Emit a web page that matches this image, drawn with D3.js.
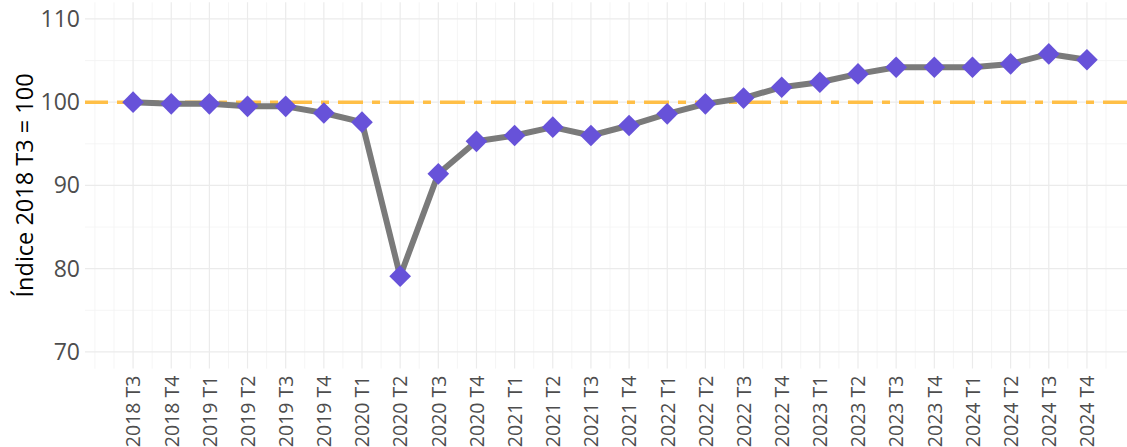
<!DOCTYPE html>
<html>
<head>
<meta charset="utf-8">
<script src="https://cdn.jsdelivr.net/npm/d3@7"></script>
<style>
body { margin: 0; background: #fff; }
text { font-family: "Open Sans", "Noto Sans", sans-serif; }
</style>
</head>
<body>
<div id="chart"></div>
<script>
var quarters = ["2018 T3","2018 T4","2019 T1","2019 T2","2019 T3","2019 T4",
  "2020 T1","2020 T2","2020 T3","2020 T4","2021 T1","2021 T2","2021 T3","2021 T4",
  "2022 T1","2022 T2","2022 T3","2022 T4","2023 T1","2023 T2","2023 T3","2023 T4",
  "2024 T1","2024 T2","2024 T3","2024 T4"];
var indexValues = [100.0, 99.8, 99.8, 99.5, 99.5, 98.7, 97.6, 79.1, 91.4, 95.3, 96.0, 97.0,
  96.0, 97.2, 98.6, 99.8, 100.5, 101.8, 102.4, 103.4, 104.2, 104.2, 104.2, 104.6, 105.8, 105.1];
var yTicks = [70, 80, 90, 100, 110];
var baseline = 100;

var width = 1127, height = 447;
var svg = d3.select("#chart").append("svg")
    .attr("width", width)
    .attr("height", height);

var x = d3.scaleLinear()
    .domain([-1.26, 26.05])
    .range([85, 1127]);
var y = d3.scaleLinear()
    .domain([68, 112])
    .range([368.6, 2.3]);

var panelTop = y(112), panelBottom = y(68);

// minor grid
var minorX = d3.range(-1, 26.5, 0.5).filter(function(d){ return d % 1 !== 0; });
minorX = minorX.concat([-1]);
svg.append("g").selectAll("line")
    .data(minorX).enter().append("line")
    .attr("x1", function(d){ return x(d); }).attr("x2", function(d){ return x(d); })
    .attr("y1", panelTop).attr("y2", panelBottom)
    .attr("stroke", "#f2f2f2").attr("stroke-width", 0.8);
svg.append("g").selectAll("line")
    .data([75, 85, 95, 105]).enter().append("line")
    .attr("x1", 85).attr("x2", width)
    .attr("y1", function(d){ return y(d); }).attr("y2", function(d){ return y(d); })
    .attr("stroke", "#f2f2f2").attr("stroke-width", 0.8);

// major grid
svg.append("g").selectAll("line")
    .data(d3.range(quarters.length)).enter().append("line")
    .attr("x1", function(d){ return x(d); }).attr("x2", function(d){ return x(d); })
    .attr("y1", panelTop).attr("y2", panelBottom)
    .attr("stroke", "#ebebeb").attr("stroke-width", 1.2);
svg.append("g").selectAll("line")
    .data(yTicks).enter().append("line")
    .attr("x1", 85).attr("x2", width)
    .attr("y1", function(d){ return y(d); }).attr("y2", function(d){ return y(d); })
    .attr("stroke", "#ebebeb").attr("stroke-width", 1.2);

// axes
var yAxis = svg.append("g")
    .attr("transform", "translate(85,0)")
    .call(d3.axisLeft(y).tickValues(yTicks).tickSize(0).tickPadding(5));
yAxis.select(".domain").remove();
yAxis.selectAll("text").attr("fill", "#4d4d4d").style("font-size", "23px");

var xAxis = svg.append("g")
    .attr("transform", "translate(0," + panelBottom + ")")
    .call(d3.axisBottom(x).tickValues(d3.range(quarters.length))
        .tickFormat(function(i){ return quarters[i]; }).tickSize(0));
xAxis.select(".domain").remove();
xAxis.selectAll("text")
    .attr("fill", "#4d4d4d")
    .style("font-size", "19.5px")
    .attr("transform", "rotate(-90)")
    .attr("text-anchor", "end")
    .attr("dy", "0.35em")
    .attr("x", -7)
    .attr("y", 0);

svg.append("text")
    .attr("transform", "translate(33," + ((panelTop + panelBottom) / 2) + ") rotate(-90)")
    .attr("text-anchor", "middle")
    .style("font-size", "23.5px")
    .attr("fill", "#000")
    .text("Índice 2018 T3 = 100");

// reference line
svg.append("line")
    .attr("x1", 85).attr("x2", width)
    .attr("y1", y(baseline)).attr("y2", y(baseline))
    .attr("stroke", "#ffbf47").attr("stroke-width", 3.5)
    .attr("stroke-dasharray", "25,9,8,9")
    .attr("stroke-dashoffset", 2);

// series line
var line = d3.line()
    .x(function(d, i){ return x(i); })
    .y(function(d){ return y(d); });
svg.append("path")
    .datum(indexValues)
    .attr("d", line)
    .attr("fill", "none")
    .attr("stroke", "#7a7a7a")
    .attr("stroke-width", 6)
    .attr("stroke-linejoin", "round");

svg.append("g").selectAll("path")
    .data(indexValues).enter().append("path")
    .attr("d", d3.symbol().type(d3.symbolSquare).size(235))
    .attr("transform", function(d, i){ return "translate(" + x(i) + "," + y(d) + ") rotate(45)"; })
    .attr("fill", "#6752d9");
</script>
</body>
</html>
